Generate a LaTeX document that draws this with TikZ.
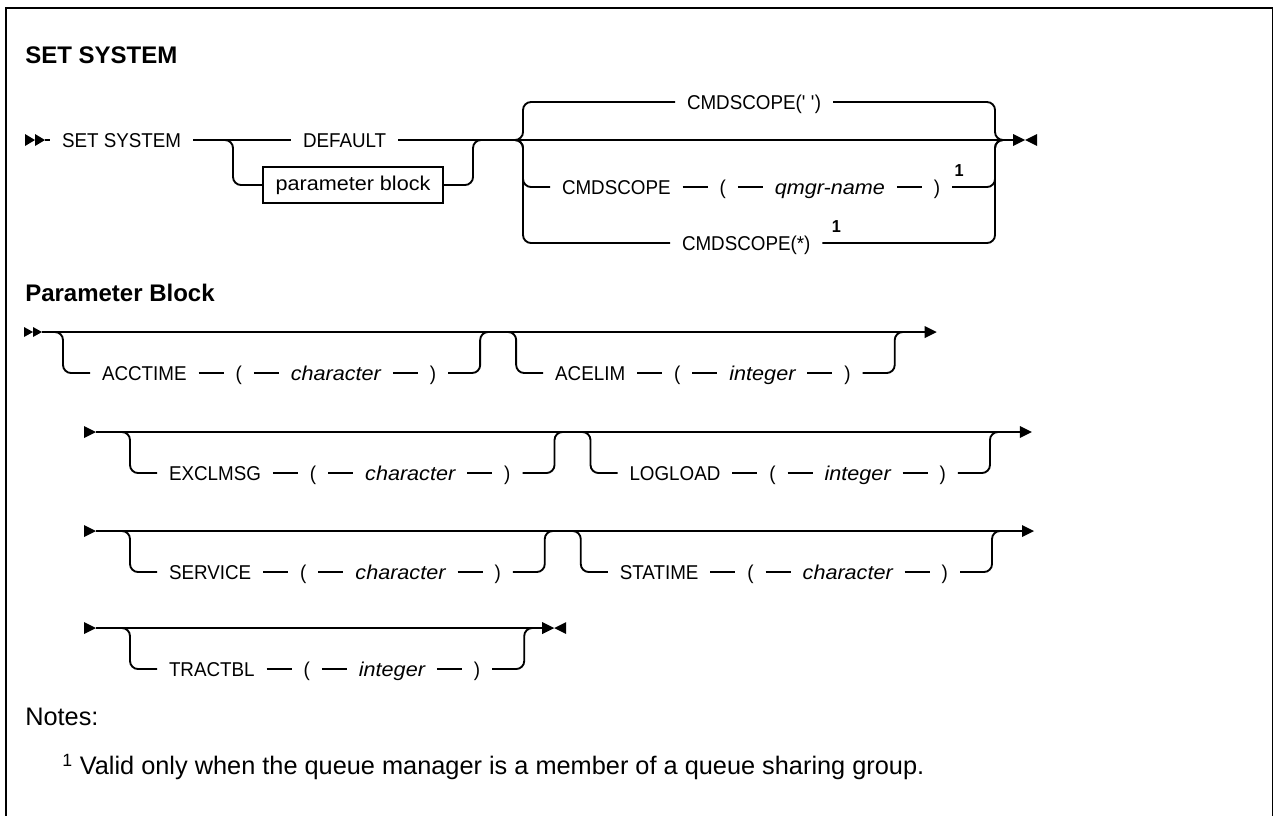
\documentclass[tikz,border=0pt]{standalone}
\usepackage{fontspec}
\setmainfont{Liberation Sans}
\newfontfamily\rrfont[FakeStretch=0.94]{Liberation Sans}
\newfontfamily\rrlow[FakeStretch=1.08]{Liberation Sans}
\usetikzlibrary{positioning,calc}
\tikzset{
  rr/.style={line width=1.4pt, rounded corners=6pt},
  tok/.style={font=\rrfont\fontsize{15}{18}\selectfont, inner sep=0pt, outer xsep=9pt, outer ysep=0pt, text height=10.8pt, text depth=0pt, anchor=west},
  pbox/.style={draw, line width=1.1pt, font=\rrlow\fontsize{15}{18}\selectfont, inner sep=0pt, minimum width=135pt, minimum height=27pt},
  ttl/.style={font=\bfseries\fontsize{18}{22}\selectfont, inner sep=0pt, anchor=west},
  supn/.style={font=\rrfont\bfseries\fontsize{13}{15}\selectfont, inner sep=0pt},
  note/.style={font=\fontsize{19}{22}\selectfont, inner sep=0pt, anchor=west},
}
\newcommand{\rrval}[1]{{\rrlow\itshape #1}}
\newcommand{\rritem}[5]{%
  \coordinate (#1d) at #3;
  \node[tok] (#1k) at ($(#1d)+(27,41)$) {#4};
  \node[tok, right=18.75pt of #1k] (#1o) {(};
  \node[tok, right=18.75pt of #1o] (#1v) {\rrval{#5}};
  \node[tok, right=18.75pt of #1v] (#1c) {)};
  \coordinate (#1u) at ($(#1c.east)+(32,0)$);
  \coordinate (#1r) at ($(#1u |- #1d)+(12,0)$);
  \draw[rr] (#2) -- (#1d) -- (#1d |- #1k) -- (#1k);
  \draw[rr] (#1k) -- (#1o);
  \draw[rr] (#1o) -- (#1v);
  \draw[rr] (#1v) -- (#1c);
  \draw[rr] (#1c) -- (#1u) -- (#1u |- #1d) -- (#1r);
}
\begin{document}
\begin{tikzpicture}[x=0.75pt, y=-0.75pt]
\useasboundingbox (0,0) rectangle (1273,815);
% frame
\draw[line width=1.6pt] (6,816) -- (6,8) -- (1272.5,8);
\draw[line width=1pt] (1272.5,8) -- (1272.5,816);
% title
\node[ttl] (t) at (25,55) {SET SYSTEM};
% main row
\fill (25,134) -- (35,140) -- (25,146) -- cycle;
\fill (35,134) -- (45,140) -- (35,146) -- cycle;
\coordinate (s0) at (45,140);
\node[tok] (ss) at (50,140) {SET SYSTEM};
\draw[rr] (s0) -- (ss);
\node[tok] (def) at (291,140) {DEFAULT};
\node[pbox] (pb) at (353,185) {parameter block};
\coordinate (b1) at (233,140);
\coordinate (b2) at (473,140);
\coordinate (j1) at (505,140);
\coordinate (jx) at (523,140);
\coordinate (jy) at (995,140);
\coordinate (eA) at (1013,140);
\draw[rr] (ss) -- (def);
\draw[rr] (ss.east) -- (b1) -- (b1 |- pb) -- (pb);
\draw[rr] (pb) -- (b2 |- pb) -- (b2) -- (j1);
\draw[rr] (def) -- (eA);
% CMDSCOPE(' ')
\node[tok] (c1) at (675,102) {CMDSCOPE(\textquotesingle\ \textquotesingle)};
\draw[rr] (j1) -- (jx) -- (jx |- c1) -- (c1);
\draw[rr] (c1) -- (jy |- c1) -- (jy) -- (eA);
% CMDSCOPE ( qmgr-name )
\node[tok] (c2) at (550,187) {CMDSCOPE};
\node[tok, right=18.75pt of c2] (c2o) {(};
\node[tok, right=18.75pt of c2o] (c2v) {\rrval{qmgr-name}};
\node[tok, right=18.75pt of c2v] (c2c) {)};
\draw[rr] (j1) -- (jx) -- (jx |- c2) -- (c2);
\draw[rr] (c2) -- (c2o);
\draw[rr] (c2o) -- (c2v);
\draw[rr] (c2v) -- (c2c);
\draw[rr] (c2c) -- (jy |- c2) -- (jy) -- (eA);
\node[supn] (n1) at ($(c2c.east)+(7,-16)$) {1};
% CMDSCOPE(*)
\node[tok] (c3) at (670,243) {CMDSCOPE(*)};
\draw[rr] (j1) -- (jx) -- (jx |- c3) -- (c3);
\draw[rr] (c3) -- (jy |- c3) -- (jy) -- (eA);
\node[supn] (n2) at ($(c3.east)+(14,-16)$) {1};
% end mark
\fill (1013,134) -- (1025,140) -- (1013,146) -- cycle;
\fill (1037,134) -- (1025,140) -- (1037,146) -- cycle;

% Parameter block
\node[ttl] (pbt) at (25,293) {Parameter Block};
% row 1
\fill (24,327) -- (33,332) -- (24,337) -- cycle;
\fill (33,327) -- (42,332) -- (33,337) -- cycle;
\coordinate (r1s) at (42,332);
\rritem{a}{r1s}{(63,332)}{ACCTIME}{character}
\rritem{b}{ar}{($(au |- ad)+(36,0)$)}{ACELIM}{integer}
\coordinate (r1e) at ($(bu |- bd)+(30,0)$);
\draw[rr] (r1s) -- (r1e);
\fill (r1e) ++(0,-6) -- ++(12,6) -- ++(-12,6) -- cycle;
% row 2
\fill (84,426) -- (96,432) -- (84,438) -- cycle;
\coordinate (r2s) at (96,432);
\rritem{c}{r2s}{(130,432)}{EXCLMSG}{character}
\rritem{e}{cr}{($(cu |- cd)+(36,0)$)}{LOGLOAD}{integer}
\coordinate (r2e) at ($(eu |- ed)+(30,0)$);
\draw[rr] (r2s) -- (r2e);
\fill (r2e) ++(0,-6) -- ++(12,6) -- ++(-12,6) -- cycle;
% row 3
\fill (84,525) -- (96,531) -- (84,537) -- cycle;
\coordinate (r3s) at (96,531);
\rritem{f}{r3s}{(130,531)}{SERVICE}{character}
\rritem{g}{fr}{($(fu |- fd)+(36,0)$)}{STATIME}{character}
\coordinate (r3e) at ($(gu |- gd)+(30,0)$);
\draw[rr] (r3s) -- (r3e);
\fill (r3e) ++(0,-6) -- ++(12,6) -- ++(-12,6) -- cycle;
% row 4
\fill (84,622) -- (96,628) -- (84,634) -- cycle;
\coordinate (r4s) at (96,628);
\rritem{h}{r4s}{(130,628)}{TRACTBL}{integer}
\coordinate (r4e) at ($(hu |- hd)+(18,0)$);
\draw[rr] (r4s) -- (r4e);
\fill (r4e) ++(0,-6) -- ++(12,6) -- ++(-12,6) -- cycle;
\fill (r4e) ++(24,-6) -- ++(-12,6) -- ++(12,6) -- cycle;

% notes
\node[note] (nt) at (25,717) {Notes:};
\node[note] (fn) at (62,767) {\textsuperscript{1} Valid only when the queue manager is a member of a queue sharing group.};
\end{tikzpicture}
\end{document}
